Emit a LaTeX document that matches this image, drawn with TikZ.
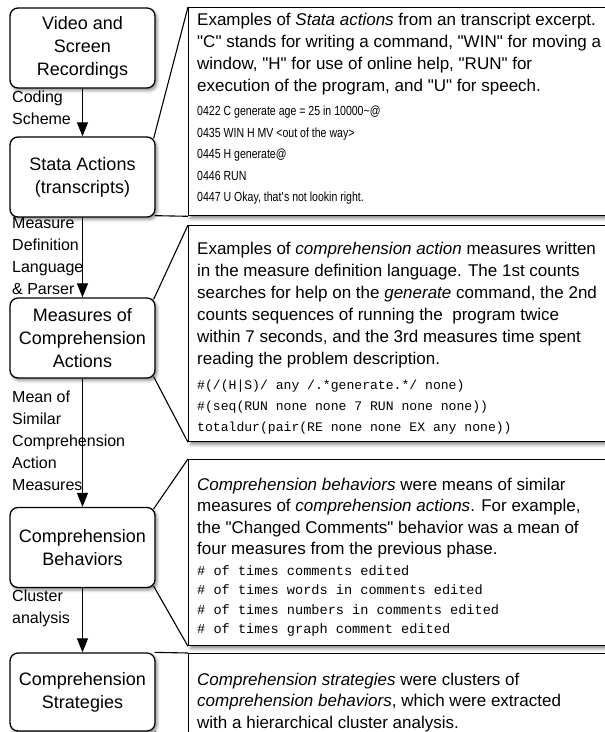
\documentclass[tikz,border=0pt]{standalone}
\usepackage{fontspec}
\setmainfont{Liberation Sans}
\setmonofont{Liberation Mono}
\newfontfamily\narrowfont[FakeStretch=0.8]{Liberation Sans}
\usetikzlibrary{arrows.meta,shadows.blur,positioning}

\begin{document}
\begin{tikzpicture}[x=1pt,y=-1pt,
  phase/.style={draw,line width=1.3pt,rounded corners=8pt,fill=white,
    minimum width=145pt,minimum height=80pt,align=center,
    font=\fontsize{18}{23}\selectfont,
    blur shadow={shadow xshift=2pt,shadow yshift=-2.5pt,shadow blur radius=3pt,shadow opacity=45}},
  example/.style={draw,line width=1.3pt,fill=white,anchor=north west,
    minimum width=430pt,inner sep=0pt,
    blur shadow={shadow xshift=2pt,shadow yshift=-3pt,shadow blur radius=3pt,shadow opacity=45}},
  prose/.style={anchor=base west,inner sep=0pt,font=\fontsize{17}{22}\selectfont},
  logline/.style={anchor=base west,inner sep=0pt,font=\narrowfont\fontsize{13.2}{14}\selectfont},
  codeline/.style={anchor=base west,inner sep=0pt,font=\ttfamily\fontsize{13.1}{14}\selectfont},
  edgelabel/.style={anchor=north west,inner sep=0pt,align=left,font=\fontsize{16}{22}\selectfont},
  flow/.style={line width=1.2pt,-{Triangle[length=14pt,width=11pt]}},
  pointer/.style={line width=1.1pt}]
  \useasboundingbox (0,0) rectangle (605,732);

  % example boxes on the right
  \node[example,minimum height=208pt] (exA) at (188,7) {};
  \node[example,minimum height=216pt] (exB) at (188,225) {};
  \node[example,minimum height=186pt] (exC) at (188,459) {};
  \node[example,minimum height=100pt] (exD) at (188,653) {};

  % phases
  \node[phase] (video) at (82.5,48) {Video and\\Screen\\Recordings};
  \node[phase] (stata) at (82.5,177) {Stata Actions\\(transcripts)};
  \node[phase] (measures) at (82.5,338) {Measures of\\Comprehension\\Actions};
  \node[phase] (behav) at (82.5,547.5) {Comprehension\\Behaviors};
  \node[phase,minimum height=78pt] (strat) at (82.5,692) {Comprehension\\Strategies};

  % callouts
  \draw[pointer] ([xshift=-2pt,yshift=-2pt]stata.north east) -- (exA.north west);
  \draw[pointer] ([xshift=-1pt,yshift=2pt]stata.south east) -- (exA.south west);
  \draw[pointer] ([xshift=-2pt,yshift=-2pt]measures.north east) -- (exB.north west);
  \draw[pointer] ([xshift=-2pt,yshift=2pt]measures.south east) -- (exB.south west);
  \draw[pointer] ([xshift=-2pt,yshift=-2pt]behav.north east) -- (exC.north west);
  \draw[pointer] ([xshift=-2pt,yshift=2pt]behav.south east) -- (exC.south west);
  \draw[pointer] ([xshift=-1pt]strat.north east) -- (exD.north west);
  \draw[pointer] ([xshift=-1pt]strat.south east) -- (exD.south west);

  % flow
  \draw[flow] (video) -- (stata);
  \draw[flow] (stata) -- (measures);
  \draw[flow] (measures) -- (behav);
  \draw[flow] (behav) -- (strat);
  \node[edgelabel] (lcode) at (12,91) {Coding\\Scheme};
  \node[edgelabel] (lmdl) at (12,217) {Measure\\Definition\\Language\\\& Parser};
  \node[edgelabel] (lmean) at (12,391) {Mean of\\Similar\\Comprehension\\Action\\Measures};
  \node[edgelabel] (lclust) at (12,590) {Cluster\\analysis};

  % texts of the examples
  \foreach \txt [count=\i] in {%
    {Examples of \textit{Stata actions} from an transcript excerpt.},
    {\textquotedbl C\textquotedbl{} stands for writing a command, \textquotedbl WIN\textquotedbl{} for moving a},
    {window, \textquotedbl H\textquotedbl{} for use of online help, \textquotedbl RUN\textquotedbl{} for},
    {execution of the program, and \textquotedbl U\textquotedbl{} for speech.}}
    \node[prose] (a\i) at (197,{25+22*(\i-1)}) {\txt};
  \foreach \txt [count=\i] in {%
    {0422 C generate age = 25 in 10000\textasciitilde @},
    {0435 WIN H MV <out of the way>},
    {0445 H generate@},
    {0446 RUN},
    {0447 U Okay, that\textquotesingle s not lookin right.}}
    \node[logline] (al\i) at (197,{115.5+21.5*(\i-1)}) {\txt};

  \foreach \txt [count=\i] in {%
    {Examples of \textit{comprehension action} measures written},
    {in the measure definition language. The 1st counts},
    {searches for help on the \textit{generate} command, the 2nd},
    {counts sequences of running the\ \ program twice},
    {within 7 seconds, and the 3rd measures time spent},
    {reading the problem description.}}
    \node[prose] (b\i) at (197,{254+22*(\i-1)}) {\txt};
  \foreach \txt [count=\i] in {%
    {\#(/(H|S)/ any /.*generate.*/ none)},
    {\#(seq(RUN none none 7 RUN none none))},
    {totaldur(pair(RE none none EX any none))}}
    \node[codeline] (bc\i) at (197,{389+21*(\i-1)}) {\txt};

  \foreach \txt [count=\i] in {%
    {\textit{Comprehension behaviors} were means of similar},
    {measures of \textit{comprehension actions}. For example,},
    {the \textquotedbl Changed Comments\textquotedbl{} behavior was a mean of},
    {four measures from the previous phase.}}
    \node[prose] (c\i) at (197,{490+21.5*(\i-1)}) {\txt};
  \foreach \txt [count=\i] in {%
    {\# of times comments edited},
    {\# of times words in comments edited},
    {\# of times numbers in comments edited},
    {\# of times graph comment edited}}
    \node[codeline,font=\ttfamily\fontsize{13.6}{14}\selectfont] (cc\i) at (197,{575+19.5*(\i-1)}) {\txt};

  \foreach \txt [count=\i] in {%
    {\textit{Comprehension strategies} were clusters of},
    {\textit{comprehension behaviors}, which were extracted},
    {with a hierarchical cluster analysis.}}
    \node[prose] (d\i) at (197,{685+21.8*(\i-1)}) {\txt};
\end{tikzpicture}
\end{document}
